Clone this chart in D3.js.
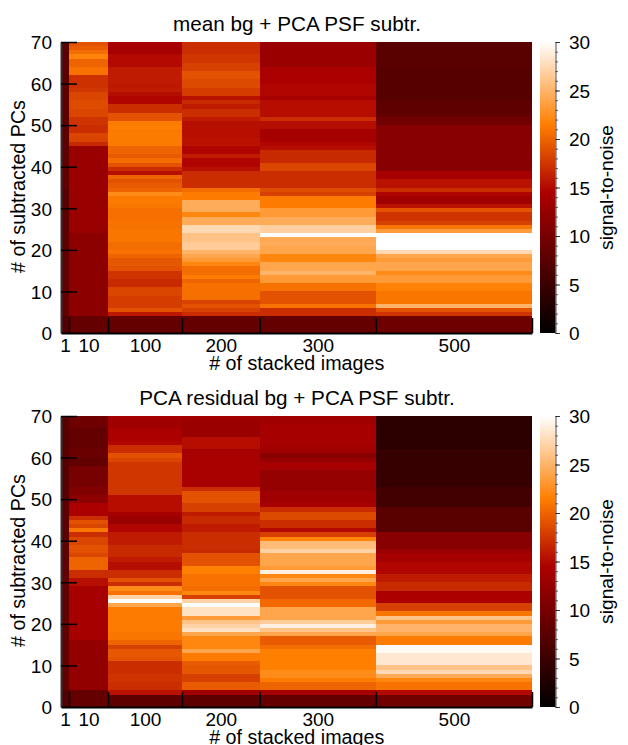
<!DOCTYPE html>
<html><head><meta charset="utf-8">
<script src="https://cdn.jsdelivr.net/npm/d3@7/dist/d3.min.js"></script>
<style>html,body{margin:0;padding:0;background:#fff;overflow:hidden}svg{display:block}text{font-family:"Liberation Sans",Arial,sans-serif;fill:#000}</style>
</head><body><div id="c"></div>
<script>
const categories=["1","10","100","200","300","500"];
const columnEdges=[0,10.3,60.4,155.4,255.2,404.5,605];
const yTicks=[0,10,20,30,40,50,60,70];
const cbTicks=[0,5,10,15,20,25,30];
const colorDomain=[0,14.5,21.5,30];
const colorRange=["#000000","#ad0000","#ff7f00","#ffffff"];
const titles=["mean bg + PCA PSF subtr.","PCA residual bg + PCA PSF subtr."];
// values listed row by row from the top of the panel (PC 70) to the bottom (PC 0)
const meanC1=[7.8,7.8,7.8,7.8,7.8,7.8,7.8,7.8,7.8,7.8,8,8,8,8,8,8,8,8,8,8,8,8,8,8,8,8,8,8.2,8.2,8.2,8.2,8.2,8.2,8.2,8.2,7.6,7.6,7.6,7.6,7.6,8,8,8,8,8,8,8,8,8,8,8.2,8.2,8.2,8.2,8.2,8.2,8.2,8.2,8.2,8.2,8.4,8.4,8.4,8.4,8.4,8.4,7,7,7,7];
const meanC10=[19,19.5,20.5,21.8,20,20,20.8,20.8,17.2,17.2,17.2,17.5,18.3,18.3,18.7,18.7,18.3,18.3,17.3,17.3,17,17,18.3,18.2,16.8,12.8,12.8,12.8,12.8,12.8,12.8,12.8,12.8,12.8,12.8,12.8,12.8,12.8,12.8,12.8,12.8,12.8,12.8,12.8,12.8,12.8,11.8,11.8,11.8,11.8,11.8,11.8,11.8,11.8,11.8,11.8,11.8,11.8,11.8,11.8,11.8,11.8,11.8,11.8,11.8,11.8,8.5,8.5,8.5,8.5];
const meanC100=[14.3,14,14,15,15,15,16,16,16,16,15.8,16,15.2,14.7,14.7,17,17,19,19,21.2,21.5,21.2,21.2,21.2,21.2,20,20,19.5,20.5,19,17,15.3,20,19,19.5,20,22.3,21.2,21.2,21,20.7,20.7,20.7,20.8,20.8,21,21,21,20.5,20.5,20.8,20,19.3,19.3,19,17.3,17.3,16.8,16.8,18.3,18.3,17.8,17.8,17.8,19,15.8,8.5,8.5,8.5,8.5];
const meanC200=[17,17,17,17.5,17.5,18,18,19,19,18.5,18.5,17.8,17.8,15.5,16.8,16,17,17,16,15.3,15.3,15.3,15.3,15.5,15.5,14.7,14.7,16,14.7,14.7,15.3,17,17,17,17,20.5,21.3,21.3,24.5,24.5,24.5,22,24.5,24.5,27.5,27.5,26,26,26.6,26.6,25,24,23.3,22,20.5,20.5,21.3,20,20.7,20.7,20.7,20.7,18.2,19,18,17,8.5,8.5,8.5,8.5];
const meanC300=[12.8,12.8,12.9,12.9,12.9,12.9,14.3,14.3,14.3,14.3,14.8,14.8,14.8,14,15.2,15.2,15.2,15.2,17,15.2,15.2,14,14,14,14.8,15.2,16.8,16.8,16.8,18.3,18.3,17,17,17,17,18.8,18,21.3,21.3,21.3,23.3,23.3,24.5,24.5,26.8,26.8,30,24.3,24.5,24,24,22,22,24,24,25,23.3,23.3,20.8,20.8,19,19,19,20.8,17,17,8.5,8.5,8.5,8.5];
const meanC500=[7.5,7.5,7.5,7.5,7.5,7.5,7.2,7.2,7.2,7.2,7.2,7.2,7.2,7.2,8,8,8,8.5,9.5,9.5,11.5,11.5,11.5,11.5,11.5,11.5,11.5,11.5,11.5,11.5,11.5,14,14,15.5,15.5,17,14.7,13.5,13.5,15.5,19,17.3,17.3,18,21,23.5,30,30,30,30,27.5,24,23.3,24,24,22.2,23.3,23.3,21.7,21.7,21,21,21,25,19,17.3,9.3,9.3,9.3,9.3];
const resC1=[7.4,7.4,7.4,7.4,7.4,7.4,7.4,7.4,7.4,7.4,7.2,7.2,7.2,7.2,7.2,7.4,7.4,7.4,7.4,7.4,7.8,7.8,7.8,7.8,7.8,7.8,7.8,7.8,7.8,7.8,7.8,7.8,7.8,7.8,7.8,8.3,8.3,8.3,8.3,8.3,8.3,8.3,8.3,8.3,8.3,8.3,8.3,8.3,8.3,8.3,8.3,8.3,8.3,8.3,8.3,8.3,8.3,8.3,8.3,8.3,8.3,8.3,8.3,8.3,8.3,8.3,7,7,7,7];
const resC10=[9.3,9.3,9.3,8.5,8.5,8.5,8.5,8.5,9,9,8.2,8.2,10,10,10,10,10,10.8,10.8,12,12,14.3,14.3,14.3,17,19,18.3,21,17,18.3,18.3,19,19,18.3,20,20,20,17,17,15.3,15.3,14,14,14,14,14,14,14,14,14,14,14,14,14,12.3,12.3,12.3,12.3,12.3,12.3,12.3,12.3,12.3,12.3,12.3,12.3,8.5,8.5,8.5,8.5];
const resC100=[13.8,13.5,13.5,14.3,14.3,14.3,14.8,17,17,19,18.3,17.5,17.5,17.5,17.5,17.5,17.5,17.5,17.5,15.2,15.2,15.2,15.2,14,13,13,14.8,14.8,16,16,16,16.8,16.8,16.8,16,15.2,15.2,17,17,19,17,22.2,20.8,27,30,24,21.3,21.3,21.3,21.3,21.3,21.3,21,21,20,18,19.3,19.3,19,17,17,17,17.3,17.3,17,17,15.5,8,8,8];
const resC200=[13.5,13,13,13,13,15.2,15.2,15.2,14,14.2,14.2,14.2,14.2,14.2,14.2,14.2,14.2,17,19,19,19,18,18,16,16.8,16.8,16,16,17,17,17,17,16.8,19,19,19,21.5,21.5,20.8,20.8,20.8,20.5,22,18,27,30,28,28,23.3,26,27,28,24,22,22,22,24,21.3,21.3,19.5,19.3,19.3,18,18,19.5,19.5,13.5,8,8,8];
const resC300=[13.5,13.5,14,14,14,14,14,13.7,13.3,11.5,12.5,14,14,12.5,12.5,12.5,12.5,12.5,13.5,13.5,13.5,14.2,17,18.5,18.5,17,17,15,18,21.8,25.5,25.5,27,24,24,24,23.3,29,22,24,22,19,19,19,20.3,20.3,24,24,24,26.6,29,26,24,19.5,19.5,20.5,21.5,21.5,21.5,21.5,21.5,22.3,22.3,21.3,20,20,14,8.5,8.5,8.5];
const resC500=[3.8,3.8,3.8,3.8,3.8,3.8,3.8,3.8,4.5,4.5,4.5,4.5,4.5,4.5,4.5,4.5,4.5,5.5,5.5,5.5,5.5,5.5,7.5,7.5,7.5,7.5,7.5,7.5,11.5,11.5,11.5,11.5,13,14,14,14.8,14.8,14.8,16,16,16.8,16.8,14.3,14.3,14.3,18,18,21,26,23.3,25,25,24,21.3,21.3,29.7,29.7,28.5,28.5,28.5,26,27.5,24.5,22,20.8,20.8,15,9.5,9.5,9.5];
const panelSeries=[[meanC1,meanC10,meanC100,meanC200,meanC300,meanC500],[resC1,resC10,resC100,resC200,resC300,resC500]];

const W=628,H=745;
const svg=d3.select("#c").append("svg").attr("width",W).attr("height",H);
const color=d3.scaleLinear().domain(colorDomain).range(colorRange).clamp(true);
const x=d3.scaleLinear().domain([0,605]).range([61,532]);
const tops=[42,416],plotH=291,fs=19,labelFs=19.7,titleFs=20.7;
const defs=svg.append("defs");
const grad=defs.append("linearGradient").attr("id","cb").attr("x1",0).attr("x2",0).attr("y1",1).attr("y2",0);
colorDomain.forEach((d,i)=>grad.append("stop").attr("offset",d/30).attr("stop-color",colorRange[i]));
const soft=defs.append("filter").attr("id","soft").attr("x",0).attr("y",0).attr("width",1).attr("height",1)
  .attr("color-interpolation-filters","sRGB");
soft.append("feGaussianBlur").attr("stdDeviation","0.35 0.45").attr("edgeMode","duplicate");

panelSeries.forEach((series,p)=>{
  const top=tops[p],bot=top+plotH;
  const y=d3.scaleLinear().domain([0,70]).range([bot,top]);
  const cb=d3.scaleLinear().domain([0,30]).range([bot,top]);
  const g=svg.append("g");
  const heat=g.append("g").attr("filter","url(#soft)");
  series.forEach((vals,c)=>{
    heat.append("g").selectAll("rect").data(vals).join("rect")
      .attr("x",x(columnEdges[c])).attr("width",x(columnEdges[c+1])-x(columnEdges[c]))
      .attr("y",(d,i)=>y(70-i)).attr("height",(d,i)=>y(69-i)-y(70-i))
      .attr("fill",d=>color(d)).attr("shape-rendering","crispEdges");
  });
  // y axis
  const ya=g.append("g").attr("transform","translate(61,0)")
    .call(d3.axisLeft(y).tickValues(yTicks).tickSize(-16).tickSizeOuter(0).tickPadding(9));
  ya.selectAll(".tick line").attr("stroke","#000").attr("stroke-width",1.5)
    .attr("display",d=>d===0?"none":null);
  ya.select(".domain").attr("stroke","#333").attr("stroke-width",2);
  ya.selectAll("text").attr("font-size",fs).attr("dy","0.36em");
  // x tick marks at column boundaries
  const xt=g.append("g").attr("transform",`translate(0,${bot})`)
    .call(d3.axisBottom(x).tickValues(columnEdges.slice(1)).tickSize(-15).tickSizeOuter(0).tickFormat(""));
  xt.selectAll(".tick line").attr("stroke","#000").attr("stroke-width",1.5);
  xt.select(".domain").attr("stroke","#000").attr("stroke-width",2);
  // x labels at column centres
  const mids=categories.map((d,i)=>(columnEdges[i]+columnEdges[i+1])/2);
  const xl=g.append("g").attr("transform",`translate(0,${bot})`)
    .call(d3.axisBottom(x).tickValues(mids).tickSize(0).tickFormat((d,i)=>categories[i]));
  xl.select(".domain").remove();
  xl.selectAll("text").attr("font-size",fs).attr("y",19).attr("dy",0);
  // titles
  g.append("text").attr("x",297).attr("y",top-11.5).attr("text-anchor","middle").attr("font-size",titleFs).text(titles[p]);
  g.append("text").attr("x",296.7).attr("y",bot+37).attr("text-anchor","middle").attr("font-size",labelFs).text("# of stacked images");
  g.append("text").attr("transform",`translate(25,${(top+bot)/2-1}) rotate(-90)`).attr("text-anchor","middle").attr("font-size",labelFs).text("# of subtracted PCs");
  // colour bar
  g.append("rect").attr("x",540).attr("y",top).attr("width",15.5).attr("height",plotH).attr("fill","url(#cb)");
  const minor=g.append("g").attr("transform","translate(555.5,0)")
    .call(d3.axisRight(cb).tickValues(d3.range(0,31)).tickSize(2.5).tickSizeOuter(0).tickFormat(""));
  minor.selectAll(".tick line").attr("stroke","#222").attr("stroke-width",.7);
  minor.select(".domain").attr("stroke","#222").attr("stroke-width",.8);
  const major=g.append("g").attr("transform","translate(555.5,0)")
    .call(d3.axisRight(cb).tickValues(cbTicks).tickSize(4.5).tickSizeOuter(0).tickPadding(9));
  major.selectAll(".tick line").attr("stroke","#222").attr("stroke-width",.9);
  major.select(".domain").remove();
  major.selectAll("text").attr("font-size",fs).attr("dy","0.36em");
  g.append("text").attr("transform",`translate(613,${(top+bot)/2}) rotate(-90)`).attr("text-anchor","middle").attr("font-size",19.2).text("signal-to-noise");
});
</script></body></html>
